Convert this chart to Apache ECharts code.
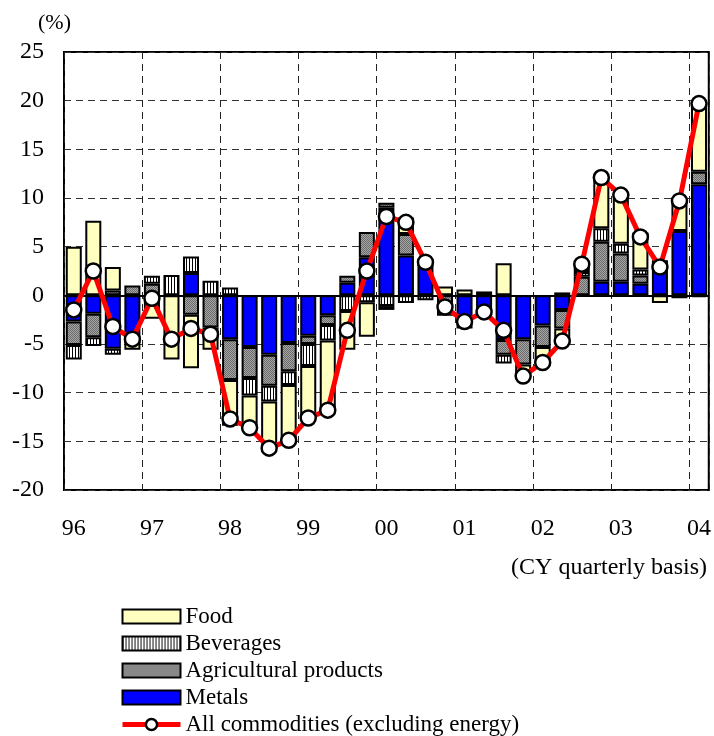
<!DOCTYPE html>
<html>
<head>
<meta charset="utf-8">
<script src="https://cdn.jsdelivr.net/npm/echarts@6/dist/echarts.min.js"></script>
<style>
  html, body { margin: 0; padding: 0; background: #fff; }
  #chart { width: 714px; height: 736px; }
</style>
</head>
<body>
<div id="chart"></div>
<script>
// Quarterly categories, 1996 Q1 .. 2004 Q1
const years = ['96', '97', '98', '99', '00', '01', '02', '03', '04'];
const quarters = [];
years.forEach(function (y, i) {
  const n = (i === years.length - 1) ? 1 : 4;
  for (let q = 1; q <= n; q++) quarters.push(y + 'Q' + q);
});

// Contributions by commodity group (% points, y/y)
const metals = [-2.7, -1.9, -5.5, -4.8, 0, 0, 2.3, 0,
  -4.5, -5.3, -6.1, -4.9, -4.15, -2.05, 1.3, 3.9,
  9.0, 4.1, 3.0, 0, -2.7, -2.1, -4.6, -4.5,
  -3.1, -1.5, 0, 1.4, 1.4, 1.2, 3.6, 6.6, 11.4];
const agricultural = [-2.4, -2.4, 0.5, 1.0, 1.2, 0, -2.0, -3.3,
  -4.2, -3.2, -3.2, -2.9, -0.85, -1.0, 0.7, 2.6,
  0.5, 2.2, 0.7, -2.1, -0.7, 0.4, -1.5, -2.6,
  -2.2, -1.9, 1.9, 4.1, 2.9, 0.85, 0, 0, 1.3];
const beverages = [-1.5, -0.9, -0.6, 0, 0.8, 2.1, 1.7, 1.5,
  0.8, -1.8, -1.6, -1.4, -2.25, -1.6, -1.6, -0.7,
  -1.1, -0.8, -0.5, 0, 0, 0, -0.9, 0,
  0, 0.3, 0.5, 1.4, 1.0, 0.6, 0, -0.3, -0.2];
const food = [5.0, 7.65, 2.4, -0.8, -2.4, -6.6, -5.5, -2.3,
  -4.7, -3.3, -4.8, -5.8, -5.35, -7.1, -4.0, -3.55,
  -0.4, 1.7, 0, 0.9, 0.6, 0, 3.3, -1.0,
  -1.7, -1.6, 0.8, 5.1, 5.2, 3.8, -0.8, 3.3, 7.0];
// All commodities excluding energy (% y/y)
const allCommodities = [-1.5, 2.5, -3.2, -4.5, -0.3, -4.5, -3.4, -4.0,
  -12.7, -13.6, -15.7, -14.9, -12.6, -11.8, -3.6, 2.5,
  8.1, 7.5, 3.4, -1.2, -2.7, -1.7, -3.6, -8.3,
  -6.9, -4.7, 3.2, 12.1, 10.3, 6.0, 2.9, 9.7, 19.7];

const FONT = "'Liberation Serif', 'Times New Roman', serif";

// Fill patterns
function stripePattern() {
  const c = document.createElement('canvas');
  c.width = 3; c.height = 4;
  const g = c.getContext('2d');
  g.fillStyle = '#ffffff'; g.fillRect(0, 0, 3, 4);
  g.fillStyle = '#000000'; g.fillRect(0, 0, 1, 4);
  return { image: c, repeat: 'repeat' };
}
function dotPattern() {
  const c = document.createElement('canvas');
  c.width = 2; c.height = 2;
  const g = c.getContext('2d');
  g.fillStyle = '#a6a6a6'; g.fillRect(0, 0, 2, 2);
  g.fillStyle = '#6a6a6a'; g.fillRect(0, 0, 1, 1); g.fillRect(1, 1, 1, 1);
  return { image: c, repeat: 'repeat' };
}

const FILLS = {
  'Metals': '#0000ff',
  'Agricultural products': dotPattern(),
  'Beverages': stripePattern(),
  'Food': '#ffffc0'
};
const LINE_NAME = 'All commodities (excluding energy)';
const LINE_STYLE = { color: '#ff0000', width: 5 };
const POINT_STYLE = { color: '#ffffff', borderColor: '#000', borderWidth: 2.5 };

function nz(arr) { return arr.map(function (v) { return v === 0 ? null : v; }); }

function barSeries(name, data) {
  return {
    name: name,
    type: 'bar',
    stack: 'total',
    data: nz(data),
    barCategoryGap: '18%',
    itemStyle: { color: FILLS[name], borderColor: '#000', borderWidth: 2 },
    emphasis: { disabled: true }
  };
}

function legendItem(name) {
  return {
    name: name,
    icon: 'rect',
    itemStyle: { color: FILLS[name], borderColor: '#000', borderWidth: 2 }
  };
}

const chart = echarts.init(document.getElementById('chart'), null, { renderer: 'canvas' });

chart.setOption({
  animation: false,
  grid: {
    left: 64, right: 5, top: 52, bottom: 246,
    show: true, borderColor: '#000', borderWidth: 2, backgroundColor: 'transparent'
  },
  xAxis: {
    type: 'category',
    data: quarters,
    boundaryGap: true,
    axisLine: { show: false },
    axisTick: { show: false },
    axisLabel: {
      interval: function (i) { return i % 4 === 0; },
      formatter: function (v) { return v.slice(0, 2); },
      fontFamily: FONT, fontSize: 24, color: '#000', margin: 27
    },
    splitLine: {
      show: true,
      interval: function (i) { return i % 4 === 0; },
      lineStyle: { color: '#222', type: [7, 5], width: 1 }
    }
  },
  yAxis: {
    type: 'value',
    min: -20, max: 25, interval: 5,
    axisLine: { show: false },
    axisTick: { show: false },
    axisLabel: { fontFamily: FONT, fontSize: 24, color: '#000', margin: 20 },
    splitLine: { show: true, lineStyle: { color: '#333', type: [7, 5], width: 1 } }
  },
  legend: {
    orient: 'vertical',
    left: 120, top: 605,
    padding: 0,
    itemWidth: 58, itemHeight: 14, itemGap: 4,
    selectedMode: false,
    textStyle: { fontFamily: FONT, fontSize: 23, color: '#000' },
    data: ['Food', 'Beverages', 'Agricultural products', 'Metals'].map(legendItem).concat([{
      name: LINE_NAME,
      lineStyle: LINE_STYLE,
      itemStyle: POINT_STYLE
    }])
  },
  graphic: [
    { type: 'text', left: 38, top: 12, style: { text: '(%)', font: '22px ' + FONT, fill: '#000' } },
    { type: 'text', right: 7, top: 556, style: { text: '(CY quarterly basis)', font: '24px ' + FONT, fill: '#000' } }
  ],
  series: [
    barSeries('Metals', metals),
    barSeries('Agricultural products', agricultural),
    barSeries('Beverages', beverages),
    barSeries('Food', food),
    {
      name: LINE_NAME,
      type: 'line',
      data: allCommodities,
      z: 5,
      symbol: 'circle',
      symbolSize: 15,
      showSymbol: true,
      showAllSymbol: true,
      lineStyle: LINE_STYLE,
      itemStyle: POINT_STYLE,
      emphasis: { disabled: true },
      markLine: {
        silent: true,
        symbol: 'none',
        label: { show: false },
        lineStyle: { color: '#000', type: 'solid', width: 2 },
        data: [{ yAxis: 0 }],
        z: 1
      }
    }
  ]
});
</script>
</body>
</html>
